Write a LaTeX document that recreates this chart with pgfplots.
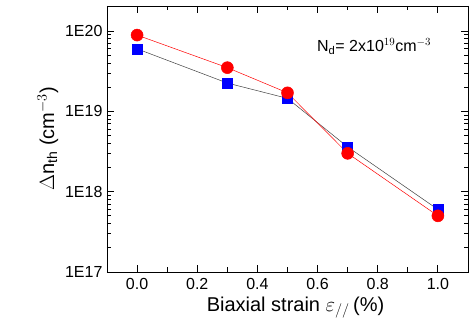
\documentclass[border=0pt]{standalone}
\usepackage{fontspec}
\setmainfont{Liberation Sans}
\usepackage{pgfplots}
\pgfplotsset{compat=1.18}
\begin{document}
\begin{tikzpicture}
\begin{axis}[
  at={(0,0)}, anchor=south west,
  scale only axis, width=361pt, height=266pt,
  xmin=-0.1, xmax=1.1,
  ymode=log, ymin=1e17, ymax=2.05e20,
  xtick={0,0.2,0.4,0.6,0.8,1.0},
  xticklabels={0.0,0.2,0.4,0.6,0.8,1.0},
  minor xtick={-0.1,0.1,0.3,0.5,0.7,0.9,1.1},
  ytick={1e17,1e18,1e19,1e20},
  yticklabels={1E17,1E18,1E19,1E20},
  minor ytick={2e17,3e17,4e17,5e17,6e17,7e17,8e17,9e17,
               2e18,3e18,4e18,5e18,6e18,7e18,8e18,9e18,
               2e19,3e19,4e19,5e19,6e19,7e19,8e19,9e19,2e20},
  xminorticks=true, yminorticks=true,
  tick align=inside,
  major tick length=7pt, minor tick length=4.5pt,
  tick style={black, line width=0.9pt},
  minor tick style={black, line width=0.9pt},
  axis line style={line width=0.9pt},
  ticklabel style={font=\fontsize{16}{18}\selectfont},
  xticklabel style={yshift=-3pt},
  yticklabel style={xshift=-1pt},
  xlabel={Biaxial strain $\varepsilon_{//}$\,(\%)},
  ylabel={$\Delta$n$_{\mathrm{th}}$ (cm$^{-3}$)},
  label style={font=\fontsize{20}{22}\selectfont},
  xlabel style={xshift=8pt},
]
\addplot[black!75, line width=0.5pt, mark=square*, mark size=5pt, mark options={fill=blue, draw=blue}]
  coordinates {(0,6.0e19) (0.3,2.25e19) (0.5,1.45e19) (0.7,3.6e18) (1.0,6.0e17)};
\addplot[red, line width=0.5pt, mark=*, mark size=6pt, mark options={fill=red, draw=red}]
  coordinates {(0,8.9e19) (0.3,3.5e19) (0.5,1.7e19) (0.7,3.0e18) (1.0,5.0e17)};
\node[anchor=base west, inner sep=0pt, font=\fontsize{16}{18}\selectfont] at (axis cs:0.598,5.5e19) {N$_{\mathrm{d}}$= 2x10$^{19}$cm$^{-3}$};
\end{axis}
\pgfresetboundingbox
\path[use as bounding box] (-107pt,-59pt) rectangle (362pt,272pt);
\end{tikzpicture}
\end{document}
